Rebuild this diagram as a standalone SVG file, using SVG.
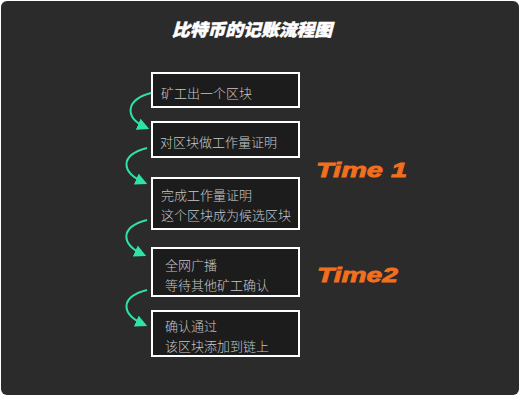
<svg xmlns="http://www.w3.org/2000/svg" width="520" height="400" viewBox="0 0 520 400">
<defs>
<marker id="ah" viewBox="0 0 10 10" refX="8" refY="5" markerWidth="6" markerHeight="6" orient="auto" markerUnits="strokeWidth">
<path d="M0,0 L10,5 L0,10 z" fill="#2fe3a4"/>
</marker>
<style>
.box{fill:#1c1c1c;stroke:#ffffff;stroke-width:2}
.t{font-family:"Noto Sans CJK SC","Noto Sans",sans-serif;font-size:13px;font-weight:300;fill:#c6c6c6}
.conn{fill:none;stroke:#2fe3a4;stroke-width:2;marker-end:url(#ah)}
.time{font-family:"Liberation Sans","DejaVu Sans",sans-serif;font-weight:bold;font-style:italic;font-size:21px;fill:#f26f1e;stroke:#f26f1e;stroke-width:0.8}
</style>
</defs>
<rect x="0" y="0" width="520" height="400" fill="#ffffff"/>
<rect x="1" y="1" width="518" height="394" rx="6" fill="#2b2b2b"/>
<text x="252" y="36" text-anchor="middle" font-family="'Noto Sans CJK SC',sans-serif" font-weight="900" font-style="italic" font-size="17" fill="#ffffff" stroke="#ffffff" stroke-width="0.5" textLength="160" lengthAdjust="spacingAndGlyphs">比特币的记账流程图</text>
<g id="connectors">
<path class="conn" d="M151,93 C125,100 124,118 147,128"/>
<path class="conn" d="M147,148 C120,155 120,172 145,183"/>
<path class="conn" d="M147,220 C120,227 120,244 144,255"/>
<path class="conn" d="M147,290 C120,297 120,314 145,325"/>
</g>
<g id="n1"><rect class="box" x="152" y="73" width="147" height="34"/><text class="t" x="161" y="98">矿工出一个区块</text></g>
<g id="n2"><rect class="box" x="152" y="122" width="147" height="35"/><text class="t" x="160" y="147">对区块做工作量证明</text></g>
<g id="n3"><rect class="box" x="152" y="178" width="147" height="51"/><text class="t" x="161" y="200">完成工作量证明</text><text class="t" x="161" y="220">这个区块成为候选区块</text></g>
<g id="n4"><rect class="box" x="152" y="248" width="147" height="48"/><text class="t" x="165" y="270">全网广播</text><text class="t" x="165" y="290">等待其他矿工确认</text></g>
<g id="n5"><rect class="box" x="152" y="311" width="147" height="45"/><text class="t" x="165" y="331">确认通过</text><text class="t" x="165" y="351">该区块添加到链上</text></g>
<text class="time" x="316" y="177" textLength="91" lengthAdjust="spacingAndGlyphs">Time 1</text>
<text class="time" x="317" y="282" textLength="81" lengthAdjust="spacingAndGlyphs">Time2</text>
</svg>
